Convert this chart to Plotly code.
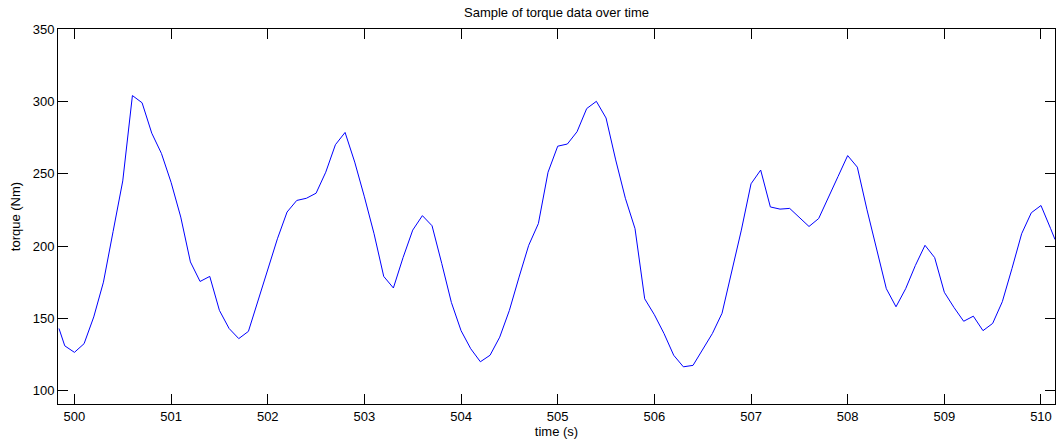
import plotly.graph_objects as go

# Time (s), sampled roughly every 0.1 s
time_s = [499.84, 499.9, 500.0, 500.1, 500.2, 500.3, 500.4, 500.5, 500.6, 500.7,
          500.8, 500.9, 501.0, 501.1, 501.2, 501.3, 501.4, 501.5, 501.6, 501.7,
          501.8, 501.9, 502.0, 502.1, 502.2, 502.3, 502.4, 502.5, 502.6, 502.7,
          502.8, 502.9, 503.0, 503.1, 503.2, 503.3, 503.4, 503.5, 503.6, 503.7,
          503.8, 503.9, 504.0, 504.1, 504.2, 504.3, 504.4, 504.5, 504.6, 504.7,
          504.8, 504.9, 505.0, 505.1, 505.2, 505.3, 505.4, 505.5, 505.6, 505.7,
          505.8, 505.9, 506.0, 506.1, 506.2, 506.3, 506.4, 506.5, 506.6, 506.7,
          506.8, 506.9, 507.0, 507.1, 507.2, 507.3, 507.4, 507.5, 507.6, 507.7,
          507.8, 507.9, 508.0, 508.1, 508.2, 508.3, 508.4, 508.5, 508.6, 508.7,
          508.8, 508.9, 509.0, 509.1, 509.2, 509.3, 509.4, 509.5, 509.6, 509.7,
          509.8, 509.9, 510.0, 510.1, 510.145]

# Torque (Nm)
torque_nm = [143, 131, 126.5, 132.5, 151, 175, 210, 245, 304, 299,
             278, 264, 244, 220, 189, 175.5, 179, 155.5, 143, 136,
             141, 162.5, 184, 205, 223.5, 231.5, 233, 236.5, 251, 270,
             278.5, 258, 234, 208.5, 179, 171, 192, 211, 221, 214,
             188, 161, 141.5, 129, 120, 124.5, 137, 155.5, 178.5, 200.5,
             215.5, 251, 269, 270.5, 279, 295, 300, 288.5, 259.5, 233,
             212, 163.5, 152.5, 139.5, 124.5, 116.5, 117.5, 129, 139.5, 153.5,
             182, 211, 243, 252.5, 227, 225.5, 226, 219.5, 213.5, 219,
             234, 248, 262.5, 254.5, 225, 197, 170.5, 158, 170.5, 186.5,
             200.5, 192, 168, 157.5, 148, 151.5, 141.5, 146.5, 161.5, 184.5,
             208.5, 223, 228, 212, 204.5]

x_ticks = [500, 501, 502, 503, 504, 505, 506, 507, 508, 509, 510]
y_ticks = [100, 150, 200, 250, 300, 350]

FONT = "Liberation Sans, Arial, sans-serif"

fig = go.Figure()
fig.add_trace(go.Scatter(
    x=time_s, y=torque_nm, mode="lines",
    line=dict(color="#0000FF", width=1),
    showlegend=False, hoverinfo="skip",
))

axis_common = dict(
    showline=True, linecolor="#000000", linewidth=1, mirror="ticks",
    ticks="inside", ticklen=10, tickwidth=1, tickcolor="#000000",
    showgrid=False, zeroline=False,
    tickfont=dict(family=FONT, size=13, color="#000000"),
)

fig.update_layout(
    width=1056, height=443,
    margin=dict(l=58, r=1, t=29, b=39),
    paper_bgcolor="white", plot_bgcolor="white",
    title=dict(text="Sample of torque data over time",
               font=dict(family=FONT, size=13, color="#000000"),
               x=0.5, xref="paper", y=1 - 12 / 443, yref="container",
               xanchor="center", yanchor="middle"),
    xaxis=dict(range=[499.83, 510.145], tickvals=x_ticks,
               ticktext=[str(v) for v in x_ticks],
               title=dict(text="time (s)", standoff=4,
                          font=dict(family=FONT, size=13, color="#000000")),
               **axis_common),
    yaxis=dict(range=[90.8, 350], tickvals=y_ticks,
               ticktext=[str(v) for v in y_ticks],
               title=dict(text="torque (Nm)", standoff=9,
                          font=dict(family=FONT, size=13, color="#000000")),
               **axis_common),
)

fig.write_html("out.html")
